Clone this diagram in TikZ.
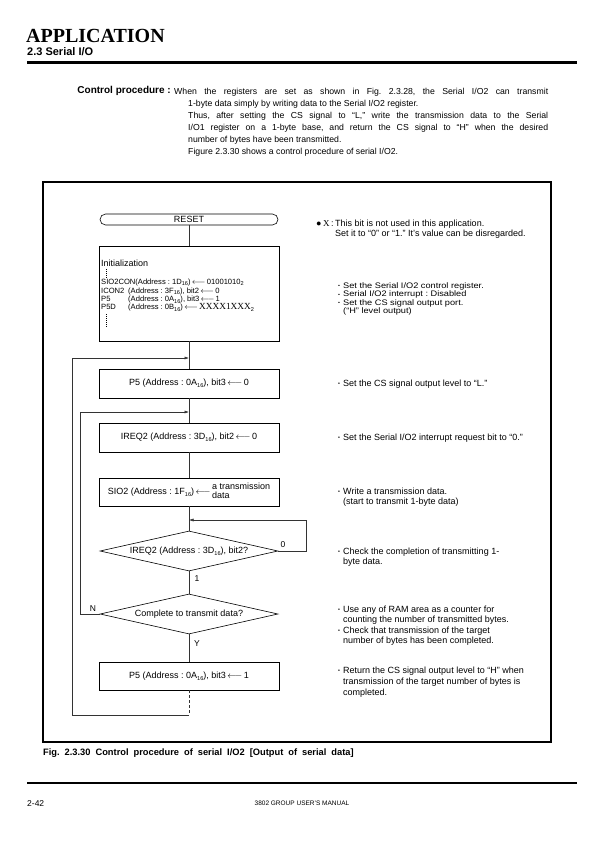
\documentclass[tikz,border=0pt]{standalone}
\usepackage{fontspec}
\usepackage{graphicx}
\setmainfont{Liberation Sans}
\newfontfamily\serifx{Liberation Serif}
\newfontfamily\wideSans[FakeStretch=1.15]{Liberation Sans}
\usetikzlibrary{arrows.meta,shapes.geometric}
\frenchspacing

\newcommand{\hexsub}{\raisebox{-0.4ex}{\fontsize{5.6}{5.6}\selectfont 16}}
\newcommand{\binsub}{\raisebox{-0.4ex}{\fontsize{5.6}{5.6}\selectfont 2}}
\newcommand{\regarrow}{\,$\longleftarrow$\,}
\newcommand{\nb}{\makebox[5pt][l]{\raisebox{.2ex}{\scalebox{.6}{\textbullet}}}}
\newcommand{\noteindent}{\hspace*{5pt}}

\tikzset{
	procbox/.style={draw, line width=0.6pt, minimum width=180pt, minimum height=29pt, inner sep=0pt, font=\fontsize{9}{9}\selectfont},
	termbox/.style={draw, line width=0.6pt, rounded corners=5.5pt, minimum width=178pt, minimum height=11pt, inner sep=0pt, font=\fontsize{9}{9}\selectfont},
	decision/.style={draw, diamond, aspect=4.45, line width=0.6pt, minimum width=178pt, minimum height=40pt, inner sep=0pt, font=\fontsize{9}{9}\selectfont},
	flowline/.style={line width=0.5pt, draw=black!80},
	flowarrow/.style={flowline, -{Latex[length=4.5pt,width=3pt]}},
	flowlabel/.style={inner sep=0pt, font=\fontsize{8.5}{8.5}\selectfont},
	regline/.style={anchor=base west, inner sep=0pt, font=\fontsize{7.6}{7.6}\selectfont},
	note/.style={anchor=north west, inner sep=0pt, align=left, font=\fontsize{9}{10.5}\selectfont},
	initdots/.style={line width=0.6pt, dash pattern=on 0.6pt off 1.4pt}
}

\begin{document}
\begin{tikzpicture}[x=1pt, y=-1pt]
	\useasboundingbox (0,0) rectangle (595,842);

	% page head
	\node[anchor=base west, inner sep=0pt, font=\serifx\bfseries\fontsize{20}{20}\selectfont] (pageTitle) at (26,43) {APPLICATION};
	\node[anchor=base west, inner sep=0pt, font=\bfseries\fontsize{11}{11}\selectfont] (secTitle) at (27,56) {2.3 Serial I/O};
	\draw[line width=3pt] (27,62.5) -- (577,62.5);

	% text above the figure
	\node[anchor=base east, inner sep=0pt, font=\bfseries\fontsize{10}{12}\selectfont] (ctrlLabel) at (171,94) {Control procedure :};
	\node[anchor=north west, inner sep=0pt, text width=374pt, align=justify, font=\fontsize{8.7}{12}\selectfont] (ctrlText) at (174,88) {%
		\parindent=0pt\hangindent=14pt\hangafter=1
		When the registers are set as shown in Fig. 2.3.28, the Serial I/O2 can transmit\linebreak
		1-byte data simply by writing data to the Serial I/O2 register.\par
		\hangindent=14pt\hangafter=0
		Thus, after setting the CS signal to “L,” write the transmission data to the Serial\linebreak
		I/O1 register on a 1-byte base, and return the CS signal to “H” when the desired\linebreak
		number of bytes have been transmitted.\par
		\hangindent=14pt\hangafter=0
		Figure 2.3.30 shows a control procedure of serial I/O2.\par};

	% figure frame
	\draw[line width=1.8pt] (43,182) rectangle (551,742);

	% flowchart
	\node[termbox] (reset) at (189,219.5) {RESET};
	\node[procbox, minimum height=95pt] (init) at (189,293.5) {};
	\node[procbox] (setLow) at (189,383.5) {P5 (Address : 0A\hexsub), bit3\regarrow 0};
	\node[procbox] (clrReq) at (189,437.5) {IREQ2 (Address : 3D\hexsub), bit2\regarrow 0};
	\node[procbox, minimum height=28pt] (wrData) at (189,492) {SIO2 (Address : 1F\hexsub)\regarrow\begin{tabular}[c]{@{}l@{}}a transmission\\data\end{tabular}};
	\node[decision] (chkReq) at (189,551) {IREQ2 (Address : 3D\hexsub), bit2?};
	\node[decision] (chkCnt) at (189,614) {Complete to transmit data?};
	\node[procbox, minimum height=28pt] (setHigh) at (189,676) {P5 (Address : 0A\hexsub), bit3\regarrow 1};

	% contents of the initialization box
	\node[anchor=base west, inner sep=0pt, font=\fontsize{9}{9}\selectfont] (initHead) at (101,266) {Initialization};
	\draw[initdots] (106,269) -- (106,278);
	\node[regline] (regSio) at (101,284.3) {SIO2CON(Address : 1D\hexsub)\regarrow 01001010\binsub};
	\node[regline] (regIcon) at (101,293.3) {ICON2};
	\node[regline] (regIconVal) at (128,293.3) {(Address : 3F\hexsub), bit2\regarrow 0};
	\node[regline] (regPort) at (101,301.5) {P5};
	\node[regline] (regPortVal) at (128,301.5) {(Address : 0A\hexsub), bit3\regarrow 1};
	\node[regline] (regDir) at (101,309.7) {P5D};
	\node[regline] (regDirVal) at (128,309.7) {(Address : 0B\hexsub)\regarrow{\serifx\fontsize{9.3}{9.3}\selectfont XXXX1XXX}\binsub};
	\draw[initdots] (106,314) -- (106,327);

	% connectors
	\coordinate (joinA) at (189,358);
	\coordinate (joinB) at (189,412);
	\coordinate (joinC) at (189,520);
	\coordinate (loopEnd) at (189,715);
	\draw[flowline] (reset) -- (init);
	\draw[flowline] (init) -- (setLow);
	\draw[flowline] (setLow) -- (clrReq);
	\draw[flowline] (clrReq) -- (wrData);
	\draw[flowline] (wrData) -- (chkReq);
	\draw[flowline] (chkReq) -- (chkCnt);
	\draw[flowline] (chkCnt) -- (setHigh);
	\draw[flowline, dash pattern=on 3pt off 2pt] (setHigh) -- (loopEnd);
	\draw[flowarrow] (loopEnd) -- ++(-117,0) |- (joinA);
	\draw[flowarrow] (chkCnt.west) -- ++(-19,0) |- (joinB);
	\draw[flowarrow] (chkReq.east) -- ++(28,0) |- (joinC);

	\node[flowlabel] (lblZero) at (283,545) {0};
	\node[flowlabel] (lblOne) at (197,579) {1};
	\node[flowlabel] (lblNo) at (93,609) {N};
	\node[flowlabel] (lblYes) at (197,644) {Y};

	% notes on the right
	\node[note, font=\fontsize{9}{10}\selectfont] (noteX) at (316,219.5) {\makebox[19pt][l]{●\,{\serifx X}\,:}This bit is not used in this application.\\\hspace*{19pt}Set it to “0” or “1.” It's value can be disregarded.};
	\node[note, font=\wideSans\fontsize{8}{7.2}\selectfont] (noteInit) at (338,282.5) {\nb Set the Serial I/O2 control register.\\\nb Serial I/O2 interrupt : Disabled\\\nb Set the CS signal output port.\\\noteindent(“H” level output)};
	\node[note] (noteLow) at (338,379.5) {\nb Set the CS signal output level to “L.”};
	\node[note] (noteReq) at (338,433.5) {\nb Set the Serial I/O2 interrupt request bit to “0.”};
	\node[note] (noteWrite) at (338,487.5) {\nb Write a transmission data.\\\noteindent(start to transmit 1-byte data)};
	\node[note, font=\fontsize{9}{10}\selectfont] (noteChk) at (338,547.5) {\nb Check the completion of transmitting 1-\\\noteindent byte data.};
	\node[note] (noteCnt) at (338,605.5) {\nb Use any of RAM area as a counter for\\\noteindent counting the number of transmitted bytes.\\\nb Check that transmission of the target\\\noteindent number of bytes has been completed.};
	\node[note, font=\fontsize{9}{11}\selectfont] (noteHigh) at (338,666.5) {\nb Return the CS signal output level to “H” when\\\noteindent transmission of the target number of bytes is\\\noteindent completed.};

	% caption and page foot
	\node[anchor=base west, inner sep=0pt, font=\bfseries\fontsize{9.3}{9.3}\selectfont] (caption) at (43,755) {\spaceskip=5pt Fig. 2.3.30 Control procedure of serial I/O2 [Output of serial data]};
	\draw[line width=1.5pt] (27,783) -- (577,783);
	\node[anchor=base west, inner sep=0pt, font=\fontsize{8.5}{8.5}\selectfont] (pageNo) at (27,806) {2-42};
	\node[anchor=base, inner sep=0pt, font=\fontsize{6.5}{6.5}\selectfont] (manualName) at (302,805) {3802 GROUP USER'S MANUAL};
\end{tikzpicture}
\end{document}
